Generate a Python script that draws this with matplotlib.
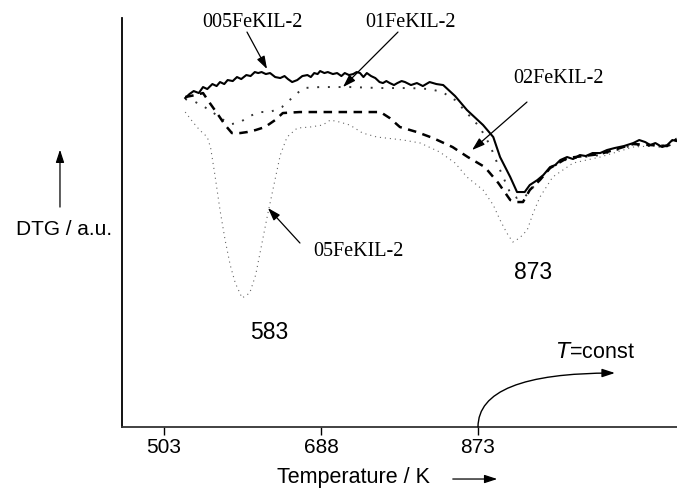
import matplotlib
matplotlib.use("Agg")
import matplotlib.pyplot as plt
from matplotlib.patches import FancyArrowPatch

# temperature axis ticks (K)
ticks = [503, 688, 873]

# 005FeKIL-2 (solid)
t_005 = [528, 533, 538, 544, 549, 554, 560, 565, 569, 574, 578, 584, 589, 594, 600, 605, 610, 614, 618, 623,
         628, 634, 640, 645, 649, 654, 660, 666, 672, 676, 680, 684, 687, 692, 696, 702, 707, 712, 716, 721,
         726, 730, 734, 738, 742, 747, 752, 757, 761, 765, 769, 774, 778, 783, 787, 794, 801, 808, 816, 824,
         832, 846, 860, 879, 891, 899, 911, 919, 928, 934, 943, 950, 958, 964, 970, 978, 985, 993, 1000, 1008,
         1017, 1025, 1034, 1045, 1056, 1063, 1070, 1076, 1082, 1090, 1096, 1102, 1107]
y_005 = [329, 333, 336, 334, 340, 338, 343, 341, 345, 343, 347, 346, 350, 348, 352, 351, 355, 354, 355, 353,
         354, 350, 349, 351, 348, 345, 347, 351, 352, 350, 354, 353, 356, 354, 355, 353, 354, 351, 354, 352,
         353, 355, 354, 350, 354, 351, 349, 345, 344, 346, 344, 342, 344, 346, 345, 342, 344, 341, 345, 343,
         342, 331, 317, 302, 290, 270, 250, 235, 235, 242, 247, 252, 260, 262, 267, 270, 268, 272, 271, 274,
         274, 277, 279, 281, 284, 287, 285, 282, 284, 280, 282, 287, 286]

# 01FeKIL-2 (dotted)
t_01 = [528, 540, 549, 560, 571, 583, 593, 604, 616, 628, 642, 655, 667, 687, 722, 758, 793, 816, 831, 846,
        860, 875, 887, 899, 911, 919, 928, 940, 958, 978, 1017, 1056, 1096, 1107]
y_01 = [328, 325, 321, 315, 308, 303, 305, 311, 315, 315, 320, 330, 339, 340, 340, 339, 339, 338, 335, 327,
        314, 300, 282, 257, 234, 229, 230, 242, 259, 268, 272, 282, 280, 287]

# 02FeKIL-2 (dashed)
t_02 = [528, 540, 549, 557, 567, 575, 583, 593, 601, 611, 622, 634, 643, 663, 699, 734, 758, 769, 781, 801,
        820, 843, 861, 881, 897, 911, 919, 926, 934, 946, 958, 978, 1017, 1056, 1096, 1107]
y_02 = [330, 332, 334, 324, 312, 302, 294, 294, 295, 297, 300, 307, 314, 315, 315, 315, 315, 309, 300, 295,
        289, 280, 270, 260, 244, 227, 225, 225, 237, 247, 259, 269, 273, 283, 281, 288]

# 05FeKIL-2 (sparse dots)
t_05 = [528, 537, 545, 554, 558, 563, 569, 575, 581, 587, 595, 604, 611, 618, 625, 633, 640, 648, 660, 675,
        690, 699, 710, 722, 737, 754, 785, 805, 828, 846, 860, 879, 891, 899, 907, 914, 922, 931, 938, 946,
        961, 985, 1017, 1056, 1096, 1107]
y_05 = [315, 305, 297, 290, 279, 252, 217, 187, 162, 144, 129, 134, 152, 182, 212, 244, 272, 290, 299, 300,
        302, 307, 305, 302, 294, 290, 287, 284, 275, 264, 250, 237, 222, 207, 194, 185, 189, 197, 214, 230,
        250, 264, 270, 280, 282, 289]

fig = plt.figure(figsize=(6.77, 4.88), dpi=100)
ax = fig.add_axes([0.1802, 0.125, 0.8198, 0.838])

ax.plot(t_05, y_05, color="#666666", lw=0.8, ls=(0, (1, 3.5)))
ax.plot(t_01, y_01, color="#333333", lw=1.4, ls=(0, (1, 4.5)))
ax.plot(t_02, y_02, color="black", lw=1.8, ls=(0, (3.4, 2.6)))
ax.plot(t_005, y_005, color="black", lw=1.5)

ax.set_xlim(453.5, 1107.5)
ax.set_ylim(0, 409)
for s in ["top", "right"]:
    ax.spines[s].set_visible(False)
ax.spines["left"].set_linewidth(1.3)
ax.spines["bottom"].set_linewidth(1.3)
ax.spines["bottom"].set_color("#333333")
ax.set_yticks([])
ax.set_xticks(ticks)
ax.set_xticklabels([str(t) for t in ticks], fontsize=15, family="Liberation Sans")
ax.tick_params(axis="x", direction="out", length=6, width=1, pad=2)

HEAD = "-|>,head_length=0.55,head_width=0.18"
serif = dict(family="Liberation Serif", fontsize=14.5, ha="center", va="center")
arw = dict(arrowstyle=HEAD, lw=0.9, color="black", mutation_scale=14, shrinkA=0, shrinkB=0)

ax.text(606.7, 405, "005FeKIL-2", **serif)
ax.annotate("", xy=(624.4, 358), xytext=(600.8, 395), arrowprops=arw)
ax.text(792.9, 405, "01FeKIL-2", **serif)
ax.annotate("", xy=(713.9, 340), xytext=(778.7, 395), arrowprops=arw)
ax.text(967.3, 349, "02FeKIL-2", **serif)
ax.annotate("", xy=(866, 277), xytext=(930.7, 325), arrowprops=arw)
ax.text(731.6, 176, "05FeKIL-2", **serif)
ax.annotate("", xy=(625.5, 219), xytext=(663.2, 184), arrowprops=arw)

ax.text(626.7, 95, "583", family="Liberation Sans", fontsize=16.5, ha="center", va="center")
ax.text(937.8, 155, "873", family="Liberation Sans", fontsize=16.5, ha="center", va="center")

# time axis hint
ax.annotate("", xy=(1034.4, 54), xytext=(873, 0),
            arrowprops=dict(arrowstyle=HEAD, lw=1.0, color="black", mutation_scale=14,
                            shrinkA=0, shrinkB=0, connectionstyle="angle3,angleA=90,angleB=0"))
ax.text(1012, 75, r"$T$=const", family="Liberation Sans", fontsize=15.5, ha="center", va="center",
        math_fontfamily="dejavusans")

fig.text(0.0945, 0.529, "DTG / a.u.", family="Liberation Sans", fontsize=15, ha="center", va="center")
fig.patches.append(FancyArrowPatch((0.0886, 0.570), (0.0886, 0.699), transform=fig.transFigure,
                                   arrowstyle=HEAD, lw=0.9, color="black", mutation_scale=14))
fig.text(0.5214, 0.0205, "Temperature / K", family="Liberation Sans", fontsize=15.5, ha="center", va="center")
fig.patches.append(FancyArrowPatch((0.6647, 0.0184), (0.7386, 0.0184), transform=fig.transFigure,
                                   arrowstyle=HEAD, lw=0.9, color="black", mutation_scale=14))

fig.savefig("out.png", dpi=100)
